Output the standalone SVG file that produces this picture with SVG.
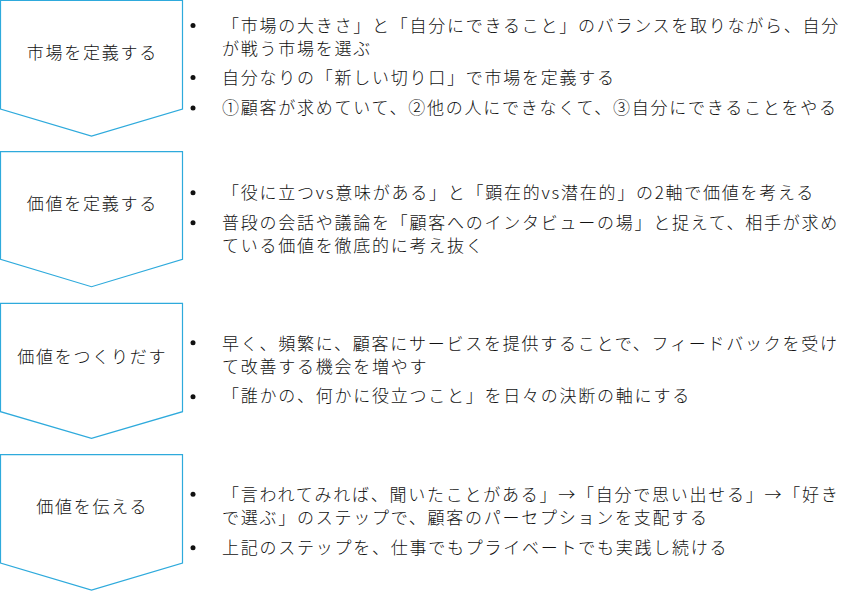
<svg xmlns="http://www.w3.org/2000/svg" width="862" height="592" viewBox="0 0 862 592">
<style>
.shape{fill:#fff;stroke:#2eaadc;stroke-width:1.2}
.t{font-family:"Noto Sans CJK JP","Noto Sans CJK SC",sans-serif;font-size:17px;font-weight:300;letter-spacing:1.75px;fill:#111}
.c{text-anchor:middle}
.b{fill:#111}
</style>
<rect width="862" height="592" fill="#fff"/>
<g id="step1">
<polygon class="shape" points="0.5,0.5 182.5,0.5 182.5,109 91.5,136 0.5,109"/>
<text class="t c" x="92.3" y="59">市場を定義する</text>
</g>
<g id="step2">
<polygon class="shape" points="0.5,151.7 182.5,151.7 182.5,259.3 91.5,286.7 0.5,259.3"/>
<text class="t c" x="92.3" y="210">価値を定義する</text>
</g>
<g id="step3">
<polygon class="shape" points="0.5,303.3 182.5,303.3 182.5,411.7 91.5,438.3 0.5,411.7"/>
<text class="t c" x="92.3" y="362.5">価値をつくりだす</text>
</g>
<g id="step4">
<polygon class="shape" points="0.5,454.7 182.5,454.7 182.5,563 91.5,590 0.5,563"/>
<text class="t c" x="92.3" y="513">価値を伝える</text>
</g>
<g id="bullets1">
<circle class="b" cx="193" cy="25.5" r="2.5"/>
<circle class="b" cx="193" cy="77.5" r="2.5"/>
<circle class="b" cx="193" cy="108" r="2.5"/>
<text class="t" x="222" y="31.5">「市場の大きさ」と「自分にできること」のバランスを取りながら、自分</text>
<text class="t" x="222" y="55">が戦う市場を選ぶ</text>
<text class="t" x="222" y="83.5">自分なりの「新しい切り口」で市場を定義する</text>
<text class="t" x="222" y="114">①顧客が求めていて、②他の人にできなくて、③自分にできることをやる</text>
</g>
<g id="bullets2">
<circle class="b" cx="193" cy="192.7" r="2.5"/>
<circle class="b" cx="193" cy="222.7" r="2.5"/>
<text class="t" x="222" y="199">「役に立つvs意味がある」と「顕在的vs潜在的」の2軸で価値を考える</text>
<text class="t" x="222" y="229">普段の会話や議論を「顧客へのインタビューの場」と捉えて、相手が求め</text>
<text class="t" x="222" y="252">ている価値を徹底的に考え抜く</text>
</g>
<g id="bullets3">
<circle class="b" cx="193" cy="342.7" r="2.5"/>
<circle class="b" cx="193" cy="396.7" r="2.5"/>
<text class="t" x="222" y="349.5">早く、頻繁に、顧客にサービスを提供することで、フィードバックを受け</text>
<text class="t" x="222" y="372.5">て改善する機会を増やす</text>
<text class="t" x="222" y="402">「誰かの、何かに役立つこと」を日々の決断の軸にする</text>
</g>
<g id="bullets4">
<circle class="b" cx="193" cy="494.3" r="2.5"/>
<circle class="b" cx="193" cy="547.7" r="2.5"/>
<text class="t" x="222" y="500.5">「言われてみれば、聞いたことがある」→「自分で思い出せる」→「好き</text>
<text class="t" x="222" y="523.5">で選ぶ」のステップで、顧客のパーセプションを支配する</text>
<text class="t" x="222" y="553.5">上記のステップを、仕事でもプライベートでも実践し続ける</text>
</g>
<g id="connectors"></g>
</svg>
